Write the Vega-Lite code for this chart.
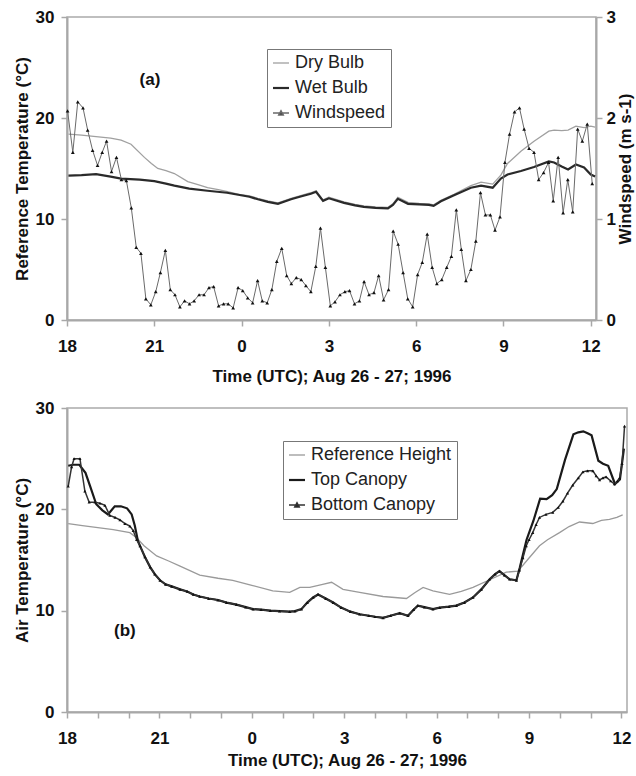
{
"$schema": "https://vega.github.io/schema/vega-lite/v6.json",
"padding": {"left": 12, "top": 7, "right": 0, "bottom": 2},
"spacing": 13,
"resolve": {"scale": {"color": "independent"}, "legend": {"color": "independent"}},
"datasets": {
"atemp": [
{"t":0.05,"T":18.4,"s":"Dry Bulb"},{"t":0.5,"T":18.3,"s":"Dry Bulb"},{"t":1.0,"T":18.15,"s":"Dry Bulb"},{"t":1.5,"T":18.0,"s":"Dry Bulb"},{"t":1.86,"T":17.8,"s":"Dry Bulb"},{"t":2.2,"T":17.4,"s":"Dry Bulb"},{"t":2.66,"T":16.1,"s":"Dry Bulb"},{"t":2.9,"T":15.5,"s":"Dry Bulb"},{"t":3.12,"T":15.0,"s":"Dry Bulb"},{"t":3.4,"T":14.8,"s":"Dry Bulb"},{"t":3.69,"T":14.5,"s":"Dry Bulb"},{"t":4.15,"T":13.7,"s":"Dry Bulb"},{"t":4.5,"T":13.4,"s":"Dry Bulb"},{"t":4.83,"T":13.1,"s":"Dry Bulb"},{"t":5.2,"T":12.9,"s":"Dry Bulb"},{"t":5.52,"T":12.7,"s":"Dry Bulb"},{"t":5.98,"T":12.4,"s":"Dry Bulb"},{"t":6.27,"T":12.3,"s":"Dry Bulb"},{"t":6.56,"T":12.05,"s":"Dry Bulb"},{"t":6.9,"T":11.8,"s":"Dry Bulb"},{"t":7.25,"T":11.6,"s":"Dry Bulb"},{"t":7.7,"T":12.05,"s":"Dry Bulb"},{"t":8.0,"T":12.3,"s":"Dry Bulb"},{"t":8.38,"T":12.6,"s":"Dry Bulb"},{"t":8.56,"T":12.8,"s":"Dry Bulb"},{"t":8.8,"T":11.9,"s":"Dry Bulb"},{"t":9.0,"T":12.15,"s":"Dry Bulb"},{"t":9.52,"T":11.7,"s":"Dry Bulb"},{"t":9.9,"T":11.45,"s":"Dry Bulb"},{"t":10.2,"T":11.3,"s":"Dry Bulb"},{"t":10.6,"T":11.2,"s":"Dry Bulb"},{"t":11.03,"T":11.15,"s":"Dry Bulb"},{"t":11.2,"T":11.5,"s":"Dry Bulb"},{"t":11.37,"T":12.15,"s":"Dry Bulb"},{"t":11.72,"T":11.65,"s":"Dry Bulb"},{"t":12.1,"T":11.55,"s":"Dry Bulb"},{"t":12.44,"T":11.5,"s":"Dry Bulb"},{"t":12.6,"T":11.4,"s":"Dry Bulb"},{"t":12.85,"T":11.85,"s":"Dry Bulb"},{"t":13.3,"T":12.45,"s":"Dry Bulb"},{"t":13.88,"T":13.3,"s":"Dry Bulb"},{"t":14.23,"T":13.65,"s":"Dry Bulb"},{"t":14.63,"T":13.45,"s":"Dry Bulb"},{"t":14.91,"T":14.35,"s":"Dry Bulb"},{"t":15.14,"T":15.5,"s":"Dry Bulb"},{"t":15.6,"T":16.7,"s":"Dry Bulb"},{"t":16.05,"T":17.7,"s":"Dry Bulb"},{"t":16.56,"T":18.7,"s":"Dry Bulb"},{"t":16.74,"T":18.8,"s":"Dry Bulb"},{"t":17.0,"T":18.75,"s":"Dry Bulb"},{"t":17.22,"T":18.8,"s":"Dry Bulb"},{"t":17.49,"T":19.2,"s":"Dry Bulb"},{"t":17.77,"T":19.05,"s":"Dry Bulb"},{"t":18.0,"T":19.2,"s":"Dry Bulb"},{"t":18.15,"T":19.1,"s":"Dry Bulb"},
{"t":0.05,"T":14.3,"s":"Wet Bulb"},{"t":0.5,"T":14.35,"s":"Wet Bulb"},{"t":1.0,"T":14.45,"s":"Wet Bulb"},{"t":1.5,"T":14.2,"s":"Wet Bulb"},{"t":1.86,"T":14.0,"s":"Wet Bulb"},{"t":2.5,"T":13.9,"s":"Wet Bulb"},{"t":3.0,"T":13.75,"s":"Wet Bulb"},{"t":3.4,"T":13.5,"s":"Wet Bulb"},{"t":3.69,"T":13.3,"s":"Wet Bulb"},{"t":4.2,"T":13.0,"s":"Wet Bulb"},{"t":4.83,"T":12.8,"s":"Wet Bulb"},{"t":5.5,"T":12.6,"s":"Wet Bulb"},{"t":5.98,"T":12.35,"s":"Wet Bulb"},{"t":6.27,"T":12.2,"s":"Wet Bulb"},{"t":6.56,"T":11.95,"s":"Wet Bulb"},{"t":6.9,"T":11.7,"s":"Wet Bulb"},{"t":7.25,"T":11.5,"s":"Wet Bulb"},{"t":7.7,"T":11.95,"s":"Wet Bulb"},{"t":8.0,"T":12.2,"s":"Wet Bulb"},{"t":8.38,"T":12.5,"s":"Wet Bulb"},{"t":8.56,"T":12.7,"s":"Wet Bulb"},{"t":8.8,"T":11.8,"s":"Wet Bulb"},{"t":9.0,"T":12.05,"s":"Wet Bulb"},{"t":9.52,"T":11.6,"s":"Wet Bulb"},{"t":9.9,"T":11.35,"s":"Wet Bulb"},{"t":10.2,"T":11.2,"s":"Wet Bulb"},{"t":10.6,"T":11.1,"s":"Wet Bulb"},{"t":11.03,"T":11.05,"s":"Wet Bulb"},{"t":11.2,"T":11.4,"s":"Wet Bulb"},{"t":11.37,"T":12.0,"s":"Wet Bulb"},{"t":11.72,"T":11.5,"s":"Wet Bulb"},{"t":12.1,"T":11.45,"s":"Wet Bulb"},{"t":12.44,"T":11.4,"s":"Wet Bulb"},{"t":12.6,"T":11.3,"s":"Wet Bulb"},{"t":12.85,"T":11.75,"s":"Wet Bulb"},{"t":13.3,"T":12.35,"s":"Wet Bulb"},{"t":13.88,"T":13.1,"s":"Wet Bulb"},{"t":14.23,"T":13.3,"s":"Wet Bulb"},{"t":14.63,"T":13.1,"s":"Wet Bulb"},{"t":14.91,"T":14.0,"s":"Wet Bulb"},{"t":15.14,"T":14.4,"s":"Wet Bulb"},{"t":15.6,"T":14.75,"s":"Wet Bulb"},{"t":16.05,"T":15.15,"s":"Wet Bulb"},{"t":16.56,"T":15.7,"s":"Wet Bulb"},{"t":16.74,"T":15.6,"s":"Wet Bulb"},{"t":17.0,"T":15.2,"s":"Wet Bulb"},{"t":17.22,"T":14.9,"s":"Wet Bulb"},{"t":17.49,"T":15.4,"s":"Wet Bulb"},{"t":17.77,"T":15.1,"s":"Wet Bulb"},{"t":18.0,"T":14.4,"s":"Wet Bulb"},{"t":18.15,"T":14.2,"s":"Wet Bulb"}
],
"awind": [
{"t":0.02,"W":2.07},{"t":0.2,"W":1.66},{"t":0.37,"W":2.16},{"t":0.55,"W":2.1},{"t":0.71,"W":1.88},{"t":0.88,"W":1.68},{"t":1.05,"W":1.53},{"t":1.21,"W":1.66},{"t":1.36,"W":1.77},{"t":1.53,"W":1.47},{"t":1.7,"W":1.61},{"t":1.87,"W":1.39},{"t":2.04,"W":1.38},{"t":2.21,"W":1.11},{"t":2.38,"W":0.72},{"t":2.54,"W":0.66},{"t":2.71,"W":0.21},{"t":2.88,"W":0.15},{"t":3.05,"W":0.28},{"t":3.21,"W":0.47},{"t":3.38,"W":0.69},{"t":3.55,"W":0.3},{"t":3.71,"W":0.25},{"t":3.88,"W":0.13},{"t":4.04,"W":0.19},{"t":4.21,"W":0.16},{"t":4.37,"W":0.19},{"t":4.54,"W":0.25},{"t":4.71,"W":0.25},{"t":4.88,"W":0.32},{"t":5.04,"W":0.33},{"t":5.21,"W":0.14},{"t":5.38,"W":0.16},{"t":5.54,"W":0.16},{"t":5.71,"W":0.12},{"t":5.88,"W":0.32},{"t":6.04,"W":0.29},{"t":6.21,"W":0.22},{"t":6.38,"W":0.17},{"t":6.55,"W":0.39},{"t":6.71,"W":0.19},{"t":6.88,"W":0.17},{"t":7.04,"W":0.3},{"t":7.21,"W":0.58},{"t":7.38,"W":0.71},{"t":7.55,"W":0.44},{"t":7.71,"W":0.36},{"t":7.88,"W":0.42},{"t":8.05,"W":0.4},{"t":8.21,"W":0.34},{"t":8.38,"W":0.28},{"t":8.55,"W":0.53},{"t":8.71,"W":0.91},{"t":8.88,"W":0.52},{"t":9.05,"W":0.14},{"t":9.21,"W":0.18},{"t":9.38,"W":0.25},{"t":9.55,"W":0.28},{"t":9.71,"W":0.29},{"t":9.88,"W":0.16},{"t":10.05,"W":0.19},{"t":10.21,"W":0.38},{"t":10.38,"W":0.25},{"t":10.55,"W":0.27},{"t":10.71,"W":0.44},{"t":10.88,"W":0.2},{"t":11.05,"W":0.3},{"t":11.21,"W":0.88},{"t":11.38,"W":0.75},{"t":11.55,"W":0.47},{"t":11.71,"W":0.21},{"t":11.88,"W":0.13},{"t":12.05,"W":0.45},{"t":12.21,"W":0.57},{"t":12.38,"W":0.85},{"t":12.55,"W":0.52},{"t":12.71,"W":0.36},{"t":12.88,"W":0.4},{"t":13.05,"W":0.52},{"t":13.21,"W":0.63},{"t":13.38,"W":1.09},{"t":13.55,"W":0.7},{"t":13.71,"W":0.39},{"t":13.88,"W":0.5},{"t":14.05,"W":0.78},{"t":14.21,"W":1.26},{"t":14.38,"W":1.04},{"t":14.55,"W":1.04},{"t":14.71,"W":0.89},{"t":14.88,"W":1.02},{"t":15.05,"W":1.56},{"t":15.21,"W":1.84},{"t":15.38,"W":2.06},{"t":15.55,"W":2.1},{"t":15.71,"W":1.89},{"t":15.88,"W":1.7},{"t":16.05,"W":1.66},{"t":16.21,"W":1.39},{"t":16.38,"W":1.46},{"t":16.55,"W":1.56},{"t":16.71,"W":1.18},{"t":16.88,"W":1.61},{"t":17.05,"W":1.06},{"t":17.21,"W":1.39},{"t":17.38,"W":1.07},{"t":17.55,"W":1.89},{"t":17.71,"W":1.77},{"t":17.88,"W":1.94},{"t":18.05,"W":1.35}
],
"bref": [
{"t":0.04,"T":18.6},{"t":0.5,"T":18.4},{"t":1.0,"T":18.2},{"t":1.5,"T":18.0},{"t":2.04,"T":17.7},{"t":2.26,"T":17.2},{"t":2.5,"T":16.4},{"t":2.91,"T":15.4},{"t":3.3,"T":14.9},{"t":3.67,"T":14.4},{"t":4.31,"T":13.5},{"t":4.9,"T":13.2},{"t":5.38,"T":13.0},{"t":6.0,"T":12.5},{"t":6.68,"T":11.95},{"t":7.23,"T":11.8},{"t":7.56,"T":12.3},{"t":7.88,"T":12.3},{"t":8.3,"T":12.6},{"t":8.59,"T":12.8},{"t":8.96,"T":12.1},{"t":9.5,"T":11.8},{"t":10.26,"T":11.4},{"t":11.02,"T":11.2},{"t":11.3,"T":11.8},{"t":11.56,"T":12.3},{"t":11.88,"T":11.95},{"t":12.42,"T":11.6},{"t":12.8,"T":11.9},{"t":13.18,"T":12.3},{"t":13.83,"T":13.2},{"t":14.26,"T":13.8},{"t":14.64,"T":13.9},{"t":15.0,"T":15.2},{"t":15.34,"T":16.4},{"t":15.6,"T":17.0},{"t":15.99,"T":17.7},{"t":16.3,"T":18.3},{"t":16.64,"T":18.75},{"t":17.07,"T":18.6},{"t":17.35,"T":18.9},{"t":17.61,"T":19.0},{"t":17.85,"T":19.2},{"t":18.04,"T":19.45}
],
"btop": [
{"t":0.04,"T":24.3},{"t":0.2,"T":24.4},{"t":0.4,"T":24.4},{"t":0.6,"T":23.6},{"t":0.75,"T":22.3},{"t":0.95,"T":20.5},{"t":1.15,"T":19.9},{"t":1.33,"T":19.5},{"t":1.55,"T":20.3},{"t":1.75,"T":20.3},{"t":1.95,"T":20.1},{"t":2.1,"T":19.5},{"t":2.2,"T":18.4},{"t":2.3,"T":16.9},{"t":2.37,"T":16.4},{"t":2.53,"T":15.3},{"t":2.7,"T":14.3},{"t":2.85,"T":13.6},{"t":3.02,"T":13.0},{"t":3.2,"T":12.6},{"t":3.4,"T":12.4},{"t":3.67,"T":12.1},{"t":3.9,"T":11.9},{"t":4.1,"T":11.6},{"t":4.31,"T":11.4},{"t":4.6,"T":11.2},{"t":4.9,"T":11.05},{"t":5.18,"T":10.8},{"t":5.5,"T":10.6},{"t":5.8,"T":10.35},{"t":6.04,"T":10.15},{"t":6.3,"T":10.1},{"t":6.6,"T":10.0},{"t":6.9,"T":9.95},{"t":7.23,"T":9.9},{"t":7.4,"T":9.95},{"t":7.61,"T":10.15},{"t":7.8,"T":10.8},{"t":7.99,"T":11.3},{"t":8.15,"T":11.6},{"t":8.4,"T":11.2},{"t":8.64,"T":10.8},{"t":8.9,"T":10.3},{"t":9.2,"T":9.9},{"t":9.5,"T":9.65},{"t":9.8,"T":9.5},{"t":10.0,"T":9.4},{"t":10.26,"T":9.3},{"t":10.5,"T":9.5},{"t":10.8,"T":9.75},{"t":11.07,"T":9.5},{"t":11.25,"T":10.1},{"t":11.39,"T":10.5},{"t":11.6,"T":10.35},{"t":11.88,"T":10.15},{"t":12.1,"T":10.3},{"t":12.4,"T":10.4},{"t":12.64,"T":10.5},{"t":12.9,"T":10.8},{"t":13.18,"T":11.3},{"t":13.45,"T":12.1},{"t":13.72,"T":13.1},{"t":13.9,"T":13.6},{"t":14.04,"T":13.9},{"t":14.2,"T":13.5},{"t":14.37,"T":13.1},{"t":14.59,"T":13.0},{"t":14.7,"T":14.25},{"t":14.92,"T":17.0},{"t":15.14,"T":18.85},{"t":15.36,"T":21.05},{"t":15.57,"T":21.0},{"t":15.75,"T":21.4},{"t":15.9,"T":22.0},{"t":16.17,"T":24.9},{"t":16.44,"T":27.4},{"t":16.6,"T":27.6},{"t":16.76,"T":27.7},{"t":16.9,"T":27.5},{"t":17.03,"T":27.3},{"t":17.25,"T":24.8},{"t":17.4,"T":24.5},{"t":17.57,"T":24.3},{"t":17.79,"T":22.5},{"t":17.95,"T":22.95},{"t":18.08,"T":26.0}
],
"bbot": [
{"t":0.04,"T":22.3},{"t":0.15,"T":24.2},{"t":0.23,"T":25.0},{"t":0.42,"T":25.0},{"t":0.58,"T":21.8},{"t":0.72,"T":20.7},{"t":0.91,"T":20.7},{"t":1.07,"T":20.6},{"t":1.23,"T":20.4},{"t":1.39,"T":19.4},{"t":1.56,"T":19.2},{"t":1.72,"T":18.95},{"t":1.88,"T":18.6},{"t":2.04,"T":18.35},{"t":2.15,"T":17.9},{"t":2.26,"T":17.0},{"t":2.37,"T":16.4},{"t":2.53,"T":15.3},{"t":2.7,"T":14.3},{"t":2.85,"T":13.6},{"t":3.02,"T":13.0},{"t":3.2,"T":12.6},{"t":3.4,"T":12.4},{"t":3.67,"T":12.1},{"t":3.9,"T":11.9},{"t":4.1,"T":11.6},{"t":4.31,"T":11.4},{"t":4.6,"T":11.2},{"t":4.9,"T":11.05},{"t":5.18,"T":10.8},{"t":5.5,"T":10.6},{"t":5.8,"T":10.35},{"t":6.04,"T":10.15},{"t":6.3,"T":10.1},{"t":6.6,"T":10.0},{"t":6.9,"T":9.95},{"t":7.23,"T":9.9},{"t":7.4,"T":9.95},{"t":7.61,"T":10.15},{"t":7.8,"T":10.8},{"t":7.99,"T":11.3},{"t":8.15,"T":11.6},{"t":8.4,"T":11.2},{"t":8.64,"T":10.8},{"t":8.9,"T":10.3},{"t":9.2,"T":9.9},{"t":9.5,"T":9.65},{"t":9.8,"T":9.5},{"t":10.0,"T":9.4},{"t":10.26,"T":9.3},{"t":10.5,"T":9.5},{"t":10.8,"T":9.75},{"t":11.07,"T":9.5},{"t":11.25,"T":10.1},{"t":11.39,"T":10.5},{"t":11.6,"T":10.35},{"t":11.88,"T":10.15},{"t":12.1,"T":10.3},{"t":12.4,"T":10.4},{"t":12.64,"T":10.5},{"t":12.9,"T":10.8},{"t":13.18,"T":11.3},{"t":13.45,"T":12.1},{"t":13.72,"T":13.1},{"t":13.9,"T":13.6},{"t":14.04,"T":13.9},{"t":14.2,"T":13.5},{"t":14.37,"T":13.1},{"t":14.59,"T":13.0},{"t":14.69,"T":14.0},{"t":14.8,"T":15.2},{"t":14.91,"T":16.4},{"t":15.0,"T":17.0},{"t":15.12,"T":17.7},{"t":15.23,"T":18.5},{"t":15.34,"T":19.2},{"t":15.55,"T":19.5},{"t":15.77,"T":19.7},{"t":15.95,"T":20.2},{"t":16.1,"T":20.8},{"t":16.25,"T":21.6},{"t":16.42,"T":22.4},{"t":16.6,"T":23.1},{"t":16.75,"T":23.7},{"t":16.9,"T":23.8},{"t":17.07,"T":23.8},{"t":17.18,"T":23.3},{"t":17.29,"T":22.9},{"t":17.4,"T":23.1},{"t":17.5,"T":23.2},{"t":17.65,"T":22.8},{"t":17.77,"T":22.5},{"t":17.87,"T":22.8},{"t":17.94,"T":23.1},{"t":18.02,"T":24.5},{"t":18.1,"T":28.2}
],
"alab": [{"t":2.85,"T":23.8,"label":"(a)"}],
"blab": [{"t":1.88,"T":8.0,"label":"(b)"}]
},
"vconcat": [
{
"width": 529, "height": 303,
"encoding": {
"x": {"field":"t","type":"quantitative","scale":{"domain":[0,18.18],"nice":false,"zero":false},
"axis":{"title":"Time (UTC); Aug 26 - 27; 1996","values":[0,3,6,9,12,15,18],"labelExpr":"'' + ((datum.value + 18) % 24)","labelPadding":12,"titlePadding":14}},
"color": {"field":"s","type":"nominal","scale":{"domain":["Dry Bulb","Wet Bulb","Windspeed"],"range":["#a0a0a0","#2a2a2a","#6a6a6a"]},
"legend":{"title":null,"orient":"none","legendX":200,"legendY":32,
"encode":{"symbols":{"update":{"shape":{"signal":"datum.value === 'Windspeed' ? 'M-1,0H1M-0.3,0.25L0,-0.3L0.3,0.25Z' : 'stroke'"},"fill":{"signal":"datum.value === 'Windspeed' ? '#111' : 'transparent'"},"strokeWidth":{"signal":"datum.value === 'Wet Bulb' ? 2.2 : 1.3"}}}}}}
},
"layer": [
{
"encoding": {"y":{"field":"T","type":"quantitative","scale":{"domain":[0,30],"nice":false},"axis":{"title":"Reference Temperature (°C)","values":[0,10,20,30],"orient":"left"}}},
"layer": [
{"data":{"name":"atemp"},"transform":[{"filter":"datum.s === 'Dry Bulb'"}],"mark":{"type":"line","strokeWidth":1.3}},
{"data":{"name":"atemp"},"transform":[{"filter":"datum.s === 'Wet Bulb'"}],"mark":{"type":"line","strokeWidth":2.2}},
{"data":{"name":"alab"},"mark":{"type":"text","fontSize":17,"fontWeight":"bold","font":"Liberation Sans"},"encoding":{"text":{"field":"label"},"color":{"value":"#111"}}}
]
},
{
"encoding": {"y":{"field":"W","type":"quantitative","scale":{"domain":[0,3],"nice":false},"axis":{"title":"Windspeed (m s-1)","values":[0,1,2,3],"orient":"right","titleAngle":270,"titleBaseline":"top","labelPadding":4,"titlePadding":2}}},
"layer": [
{"data":{"name":"awind"},"transform":[{"calculate":"'Windspeed'","as":"s"}],"mark":{"type":"line","strokeWidth":1}},
{"data":{"name":"awind"},"mark":{"type":"point","shape":"triangle-up","filled":true,"size":14,"opacity":1},"encoding":{"color":{"value":"#111"}}}
]
}
],
"resolve": {"scale": {"y": "independent"}}
},
{
"width": 560, "height": 304,
"encoding": {
"x": {"field":"t","type":"quantitative","scale":{"domain":[0,18.18],"nice":false,"zero":false},
"axis":{"title":"Time (UTC); Aug 26 - 27; 1996","values":[0,1,2,3,4,5,6,7,8,9,10,11,12,13,14,15,16,17,18],"labelExpr":"datum.value % 3 === 0 ? '' + ((datum.value + 18) % 24) : ''","labelPadding":12,"titlePadding":6}},
"y": {"field":"T","type":"quantitative","scale":{"domain":[0,30],"nice":false},"axis":{"title":"Air Temperature (°C)","values":[0,10,20,30]}},
"color": {"field":"s","type":"nominal","scale":{"domain":["Reference Height","Top Canopy","Bottom Canopy"],"range":["#9a9a9a","#1a1a1a","#333333"]},
"legend":{"title":null,"orient":"none","legendX":216,"legendY":33,
"encode":{"symbols":{"update":{"shape":{"signal":"datum.value === 'Bottom Canopy' ? 'M-1,0H1M-0.3,0.25L0,-0.3L0.3,0.25Z' : 'stroke'"},"fill":{"signal":"datum.value === 'Bottom Canopy' ? '#111' : 'transparent'"},"strokeWidth":{"signal":"datum.value === 'Top Canopy' ? 2.2 : 1.3"}}}}}}
},
"layer": [
{"data":{"name":"bref"},"transform":[{"calculate":"'Reference Height'","as":"s"}],"mark":{"type":"line","strokeWidth":1.3}},
{"data":{"name":"btop"},"transform":[{"calculate":"'Top Canopy'","as":"s"}],"mark":{"type":"line","strokeWidth":2.2}},
{"data":{"name":"bbot"},"transform":[{"calculate":"'Bottom Canopy'","as":"s"}],"mark":{"type":"line","strokeWidth":1.5}},
{"data":{"name":"bbot"},"mark":{"type":"point","shape":"triangle-up","filled":true,"size":10,"opacity":1},"encoding":{"color":{"value":"#111"}}},
{"data":{"name":"blab"},"mark":{"type":"text","fontSize":17,"fontWeight":"bold","font":"Liberation Sans"},"encoding":{"text":{"field":"label"},"color":{"value":"#111"}}}
]
}
],
"config": {
"font": "Liberation Sans",
"view": {"stroke": "#aaaaaa", "strokeWidth": 1.5},
"axis": {"grid": false, "domainColor": "#a8a8a8", "domainWidth": 2, "tickColor": "#a8a8a8", "tickWidth": 1.5, "tickSize": 6,
"labelFont": "Liberation Sans", "labelFontSize": 17, "labelFontWeight": "bold", "labelColor": "#111",
"titleFont": "Liberation Sans", "titleFontSize": 17, "titleFontWeight": "bold", "titleColor": "#111"},
"axisX": {"labelFlush": false, "labelOverlap": false},
"axisY": {"labelPadding": 7, "titlePadding": 4},
"legend": {"strokeColor": "#777777", "fillColor": "white", "padding": 5, "labelFont": "Liberation Sans", "labelFontSize": 18, "labelColor": "#222", "symbolType": "stroke", "symbolSize": 256, "rowPadding": 7, "labelOffset": 5, "symbolStrokeColor": "#444"}
}
}
